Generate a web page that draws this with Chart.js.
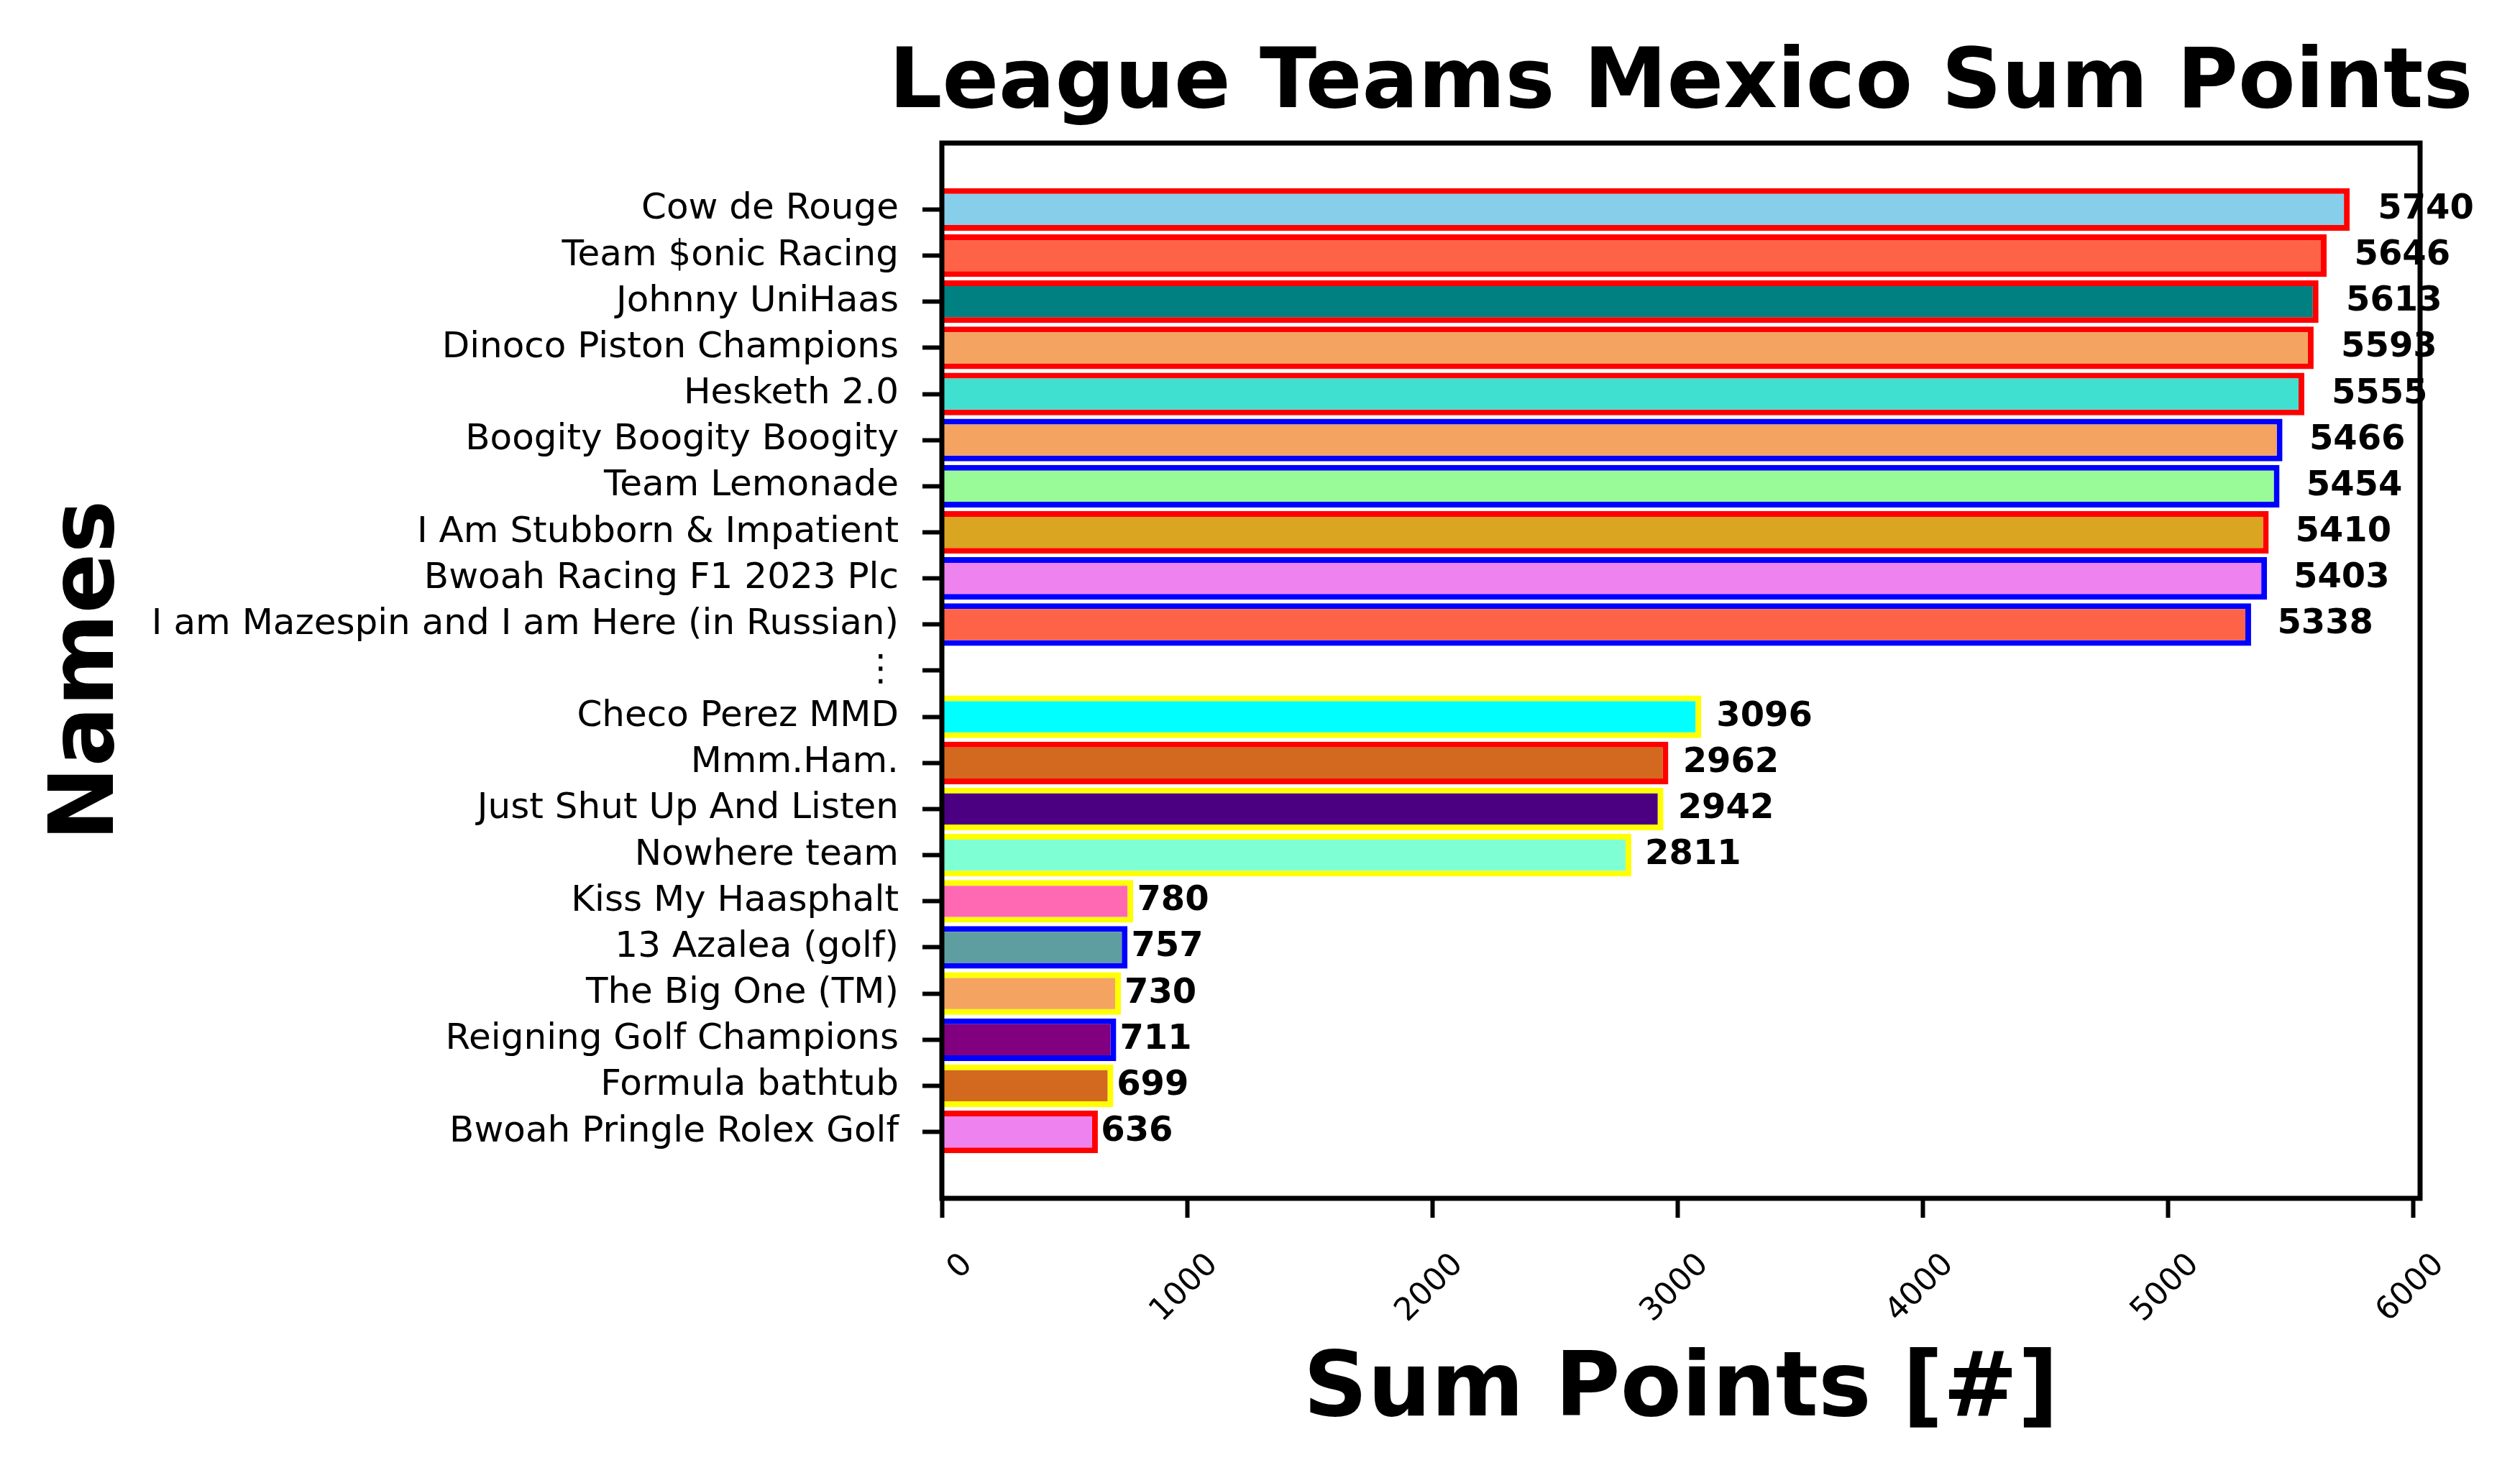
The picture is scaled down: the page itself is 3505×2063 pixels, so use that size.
<!DOCTYPE html>
<html>
<head>
<meta charset="utf-8">
<script src="https://cdn.jsdelivr.net/npm/chart.js@4.4.1/dist/chart.umd.min.js"></script>
<style>
    html, body { margin: 0; padding: 0; background: #fff; }
    #wrap { width: 3505px; height: 2063px; }
</style>
</head>
<body>
<div id="wrap"><canvas id="chart" width="3505" height="2063"></canvas></div>
<script>
// Team names, top to bottom (the "⋮" row is the gap between top and bottom groups)
const names = [
    'Cow de Rouge',
    'Team $onic Racing',
    'Johnny UniHaas',
    'Dinoco Piston Champions',
    'Hesketh 2.0',
    'Boogity Boogity Boogity',
    'Team Lemonade',
    'I Am Stubborn & Impatient',
    'Bwoah Racing F1 2023 Plc',
    'I am Mazespin and I am Here (in Russian)',
    '\u22EE',
    'Checo Perez MMD',
    'Mmm.Ham.',
    'Just Shut Up And Listen',
    'Nowhere team',
    'Kiss My Haasphalt',
    '13 Azalea (golf)',
    'The Big One (TM)',
    'Reigning Golf Champions',
    'Formula bathtub',
    'Bwoah Pringle Rolex Golf'
];

const points = [5740, 5646, 5613, 5593, 5555, 5466, 5454, 5410, 5403, 5338, null,
                3096, 2962, 2942, 2811, 780, 757, 730, 711, 699, 636];

const fillColors = ['#87CEEB', '#FF6347', '#008080', '#F4A460', '#40E0D0', '#F4A460', '#98FB98',
                    '#DAA520', '#EE82EE', '#FF6347', null, '#00FFFF', '#D2691E', '#4B0082',
                    '#7FFFD4', '#FF69B4', '#5F9EA0', '#F4A460', '#800080', '#D2691E', '#EE82EE'];

const edgeColors = ['#FF0000', '#FF0000', '#FF0000', '#FF0000', '#FF0000', '#0000FF', '#0000FF',
                    '#FF0000', '#0000FF', '#0000FF', null, '#FFFF00', '#FF0000', '#FFFF00',
                    '#FFFF00', '#FFFF00', '#0000FF', '#FFFF00', '#0000FF', '#FFFF00', '#FF0000'];

const xTicks = [0, 1000, 2000, 3000, 4000, 5000, 6000];

const FONT = 'DejaVu Sans';
Chart.defaults.font.family = FONT;
Chart.defaults.color = '#000';

// bars: one point per named row, the gap row has no bar
const barData = [];
points.forEach((v, i) => {
    if (v !== null) barData.push({ x: v, y: i });
});

// value labels just past the end of each bar
const valueLabels = {
    id: 'valueLabels',
    afterDatasetsDraw(chart) {
        const { ctx, scales: { x } } = chart;
        const meta = chart.getDatasetMeta(0);
        ctx.save();
        ctx.font = 'bold 48px "' + FONT + '"';
        ctx.fillStyle = '#000';
        ctx.textAlign = 'left';
        ctx.textBaseline = 'middle';
        meta.data.forEach((bar, i) => {
            const v = chart.data.datasets[0].data[i].x;
            ctx.fillText(String(v), x.getPixelForValue(v * 1.02), bar.y);
        });
        ctx.restore();
    }
};

// box around the plot + title centred over the plot area
const frame = {
    id: 'frame',
    afterDatasetsDraw(chart) {
        const { ctx, chartArea: a } = chart;
        ctx.save();
        ctx.strokeStyle = '#000';
        ctx.lineWidth = 7;
        ctx.strokeRect(a.left, a.top, a.right - a.left, a.bottom - a.top);
        ctx.restore();
    },
    afterDraw(chart) {
        const { ctx, chartArea: a } = chart;
        ctx.save();
        ctx.font = 'bold 116px "' + FONT + '"';
        ctx.fillStyle = '#000';
        ctx.textAlign = 'center';
        ctx.textBaseline = 'alphabetic';
        ctx.fillText('League Teams Mexico Sum Points', (a.left + a.right) / 2, 149);
        ctx.restore();
    }
};

new Chart(document.getElementById('chart'), {
    type: 'bar',
    data: {
        datasets: [{
            data: barData,
            backgroundColor: c => fillColors[c.raw.y],
            borderColor: c => edgeColors[c.raw.y],
            borderWidth: 8,
            borderSkipped: 'start',
            barPercentage: 0.924,
            categoryPercentage: 1.0
        }]
    },
    options: {
        indexAxis: 'y',
        responsive: false,
        devicePixelRatio: 1,
        animation: false,
        layout: {
            padding: { top: 199, right: 139, bottom: 0, left: 0 }
        },
        plugins: {
            legend: { display: false },
            tooltip: { enabled: false }
        },
        scales: {
            x: {
                type: 'linear',
                min: 0,
                max: 6027,
                afterBuildTicks: scale => {
                    scale.ticks = xTicks.map(v => ({ value: v }));
                },
                afterFit: scale => { scale.height = 396; },
                border: { display: false },
                grid: {
                    drawOnChartArea: false,
                    drawTicks: true,
                    tickLength: 27,
                    tickWidth: 6,
                    tickColor: '#000'
                },
                ticks: {
                    font: { size: 44 },
                    color: '#000',
                    minRotation: 45,
                    maxRotation: 45,
                    padding: 40,
                    labelOffset: 36,
                    callback: v => String(v)
                },
                title: {
                    display: true,
                    text: 'Sum Points [#]',
                    color: '#000',
                    font: { size: 124, weight: 'bold' },
                    padding: { top: 0, bottom: 52 }
                }
            },
            y: {
                type: 'linear',
                reverse: true,
                offset: false,
                min: -1.44,
                max: 21.44,
                afterBuildTicks: scale => {
                    scale.ticks = names.map((n, i) => ({ value: i }));
                },
                afterFit: scale => { scale.width = 1310; },
                border: { display: false },
                grid: {
                    offset: false,
                    drawOnChartArea: false,
                    drawTicks: true,
                    tickLength: 27,
                    tickWidth: 6,
                    tickColor: '#000'
                },
                ticks: {
                    autoSkip: false,
                    font: { size: 50 },
                    color: '#000',
                    padding: 33,
                    callback: v => names[v]
                },
                title: {
                    display: true,
                    text: 'Names',
                    color: '#000',
                    font: { size: 124, weight: 'bold' },
                    padding: { top: 50, bottom: 0 }
                }
            }
        }
    },
    plugins: [valueLabels, frame]
});
</script>
</body>
</html>
